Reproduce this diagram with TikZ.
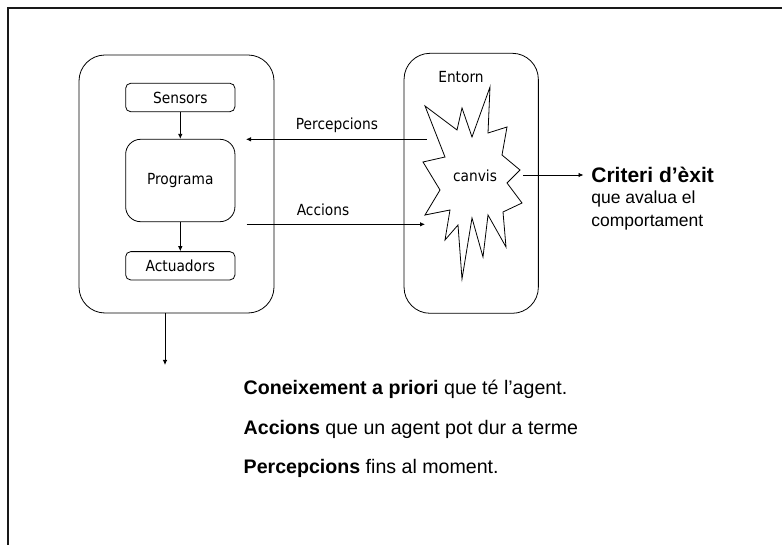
\documentclass[tikz,border=0pt]{standalone}
\usepackage{fontspec}
\setmainfont{DejaVu Sans Condensed}
\newfontfamily\notefont{Liberation Sans}
\usetikzlibrary{arrows.meta,calc}
\begin{document}
\begin{tikzpicture}[x=1pt,y=-1pt,
  line width=0.8pt,
  >={Latex[length=5pt,width=4.5pt]},
  txt/.style={font=\fontsize{15.3}{18}\selectfont, inner sep=0pt},
  block/.style={draw, txt, minimum width=109.3pt},
  frame/.style={draw, rounded corners=26pt},
  note/.style={font=\notefont\fontsize{17.5}{20}\selectfont, inner sep=0pt, anchor=base west},
  fact/.style={font=\notefont\fontsize{19.6}{23}\selectfont, inner sep=0pt, anchor=base west}]
\useasboundingbox (0,0) rectangle (782,545);
\fill[white] (0,0) rectangle (782,545);

% page border (left and top edges)
\draw[line width=2.4pt, black!90] (8,546) -- (8,8) -- (783,8);

% agent
\node[frame, minimum width=195pt, minimum height=258pt] (agent) at (176.5,184) {};
\node[block, rounded corners=5pt, minimum height=28.4pt] (sensors) at (180.3,97.5) {Sensors};
\node[block, rounded corners=15pt, minimum height=82.4pt] (programa) at (180.3,180.5) {Programa};
\node[block, rounded corners=5pt, minimum height=28.3pt] (actuadors) at (180.3,265.8) {Actuadors};
\draw[->] (sensors) -- (programa);
\draw[->] (programa) -- (actuadors);
\coordinate (down) at (165,365);
\draw[->] (agent.south -| down) -- (down);

% environment
\node[frame, minimum width=134.3pt, minimum height=260pt] (entorn) at (471.2,183.3) {};
\node[txt] (entornlbl) at (461,76.7) {Entorn};
\draw (490,87) -- (488,133) -- (507,127) -- (502,155) -- (520,170) -- (507,183)
  -- (522,203) -- (503,212) -- (506,247) -- (488,215) -- (483,257) -- (472,218)
  -- (462,279) -- (458,225) -- (445,240) -- (450,210) -- (425,215) -- (440,190)
  -- (423,162) -- (445,157) -- (425,106) -- (457,130) -- (462,108) -- (472,137)
  -- cycle;
\node[txt] (canvis) at (475,176) {canvis};

% perceptions and actions
\coordinate (pin) at (426.7,139.3);
\coordinate (pout) at (246,139.3);
\coordinate (ain) at (246.7,224.3);
\coordinate (aout) at (425,224.3);
\draw[->] (pin) -- (pout);
\draw[->] (ain) -- (aout);
\node[txt] (perlbl) at (337,125) {Percepcions};
\node[txt] (acclbl) at (323,209.3) {Accions};

% success criterion
\coordinate (cstart) at (523.3,175);
\coordinate (cend) at (583.5,175);
\node[note, font=\notefont\fontsize{21}{24}\selectfont\bfseries] (criteri) at (591,182.3) {Criteri d’èxit};
\node[note] (crit2) at (591,203.3) {que avalua el};
\node[note] (crit3) at (591,226.3) {comportament};
\draw[->] (cstart) -- (cend);

% what the agent relies on
\node[fact] (f1) at (243.3,394.5) {\textbf{Coneixement a priori} que té l’agent.};
\node[fact] (f2) at (243.3,434) {\textbf{Accions} que un agent pot dur a terme};
\node[fact] (f3) at (243.3,473) {\textbf{Percepcions} fins al moment.};
\end{tikzpicture}
\end{document}
